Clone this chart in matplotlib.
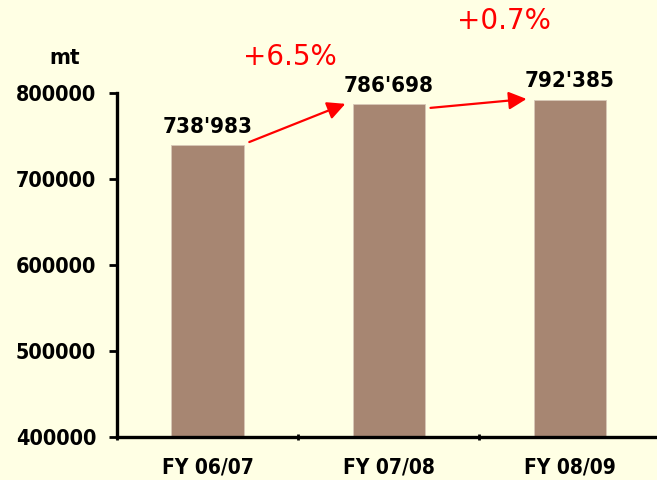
import matplotlib.pyplot as plt

categories = ["FY 06/07", "FY 07/08", "FY 08/09"]
values = [738983, 786698, 792385]
value_labels = ["738'983", "786'698", "792'385"]
growth_labels = ["+6.5%", "+0.7%"]
y_ticks = [400000, 500000, 600000, 700000, 800000]

bg = "#FFFFE4"
bar_color = "#A78672"
bold_font = dict(family="DejaVu Sans", stretch="condensed", weight="bold")


def main():
    fig = plt.figure(figsize=(6.57, 4.80), dpi=100, facecolor=bg)
    ax = fig.add_axes([117 / 657, 43 / 480, 540 / 657, 344 / 480])
    ax.set_facecolor(bg)

    xs = list(range(len(categories)))
    width = 0.40
    ax.bar(xs, values, width=width, color=bar_color, edgecolor="#D8C8B8", linewidth=0.6)

    ax.set_ylim(400000, 800000)
    ax.set_xlim(-0.5, 2.48)
    ax.set_yticks(y_ticks)
    ax.set_yticklabels([str(t) for t in y_ticks], fontsize=15.5, **bold_font)

    # labels at bar centres, tick marks at the category borders
    ax.set_xticks(xs)
    ax.set_xticklabels(categories, fontsize=15, **bold_font)
    ax.tick_params(axis="x", length=0, pad=15)
    ax.set_xticks([-0.5, 0.5, 1.5], minor=True)
    ax.tick_params(axis="x", which="minor", length=5, width=2, direction="inout")
    ax.tick_params(axis="y", length=6, width=2, direction="out", pad=9)

    for side in ("top", "right"):
        ax.spines[side].set_visible(False)
    ax.spines["left"].set_linewidth(2.4)
    ax.spines["bottom"].set_linewidth(2.4)

    # value labels above bars
    for x, v, lab in zip(xs, values, value_labels):
        ax.annotate(lab, (x, v), xytext=(0, 6), textcoords="offset points",
                    ha="center", va="bottom", fontsize=16, annotation_clip=False,
                    **bold_font)

    # growth arrows between bars
    start_dy = [4000, -4000]
    for i, lab in enumerate(growth_labels):
        start = (xs[i] + width / 2 + 0.03, values[i] + start_dy[i])
        end = (xs[i + 1] - width / 2 - 0.04, values[i + 1] + 700)
        ax.annotate("", xy=end, xytext=start,
                    arrowprops=dict(arrowstyle="-|>,head_length=0.6,head_width=0.3",
                                    color="red", lw=1.6, mutation_scale=18,
                                    shrinkA=0, shrinkB=0),
                    annotation_clip=False)

    fig.text(290 / 657, 1 - 57 / 480, growth_labels[0], color="red",
             fontsize=20, ha="center", va="center")
    fig.text(504 / 657, 1 - 21 / 480, growth_labels[1], color="red",
             fontsize=20, ha="center", va="center")
    fig.text(65 / 657, 1 - 58 / 480, "mt", fontsize=16, ha="center", va="center",
             **bold_font)

    fig.savefig("out.png", dpi=100, facecolor=bg)


if __name__ == "__main__":
    main()
